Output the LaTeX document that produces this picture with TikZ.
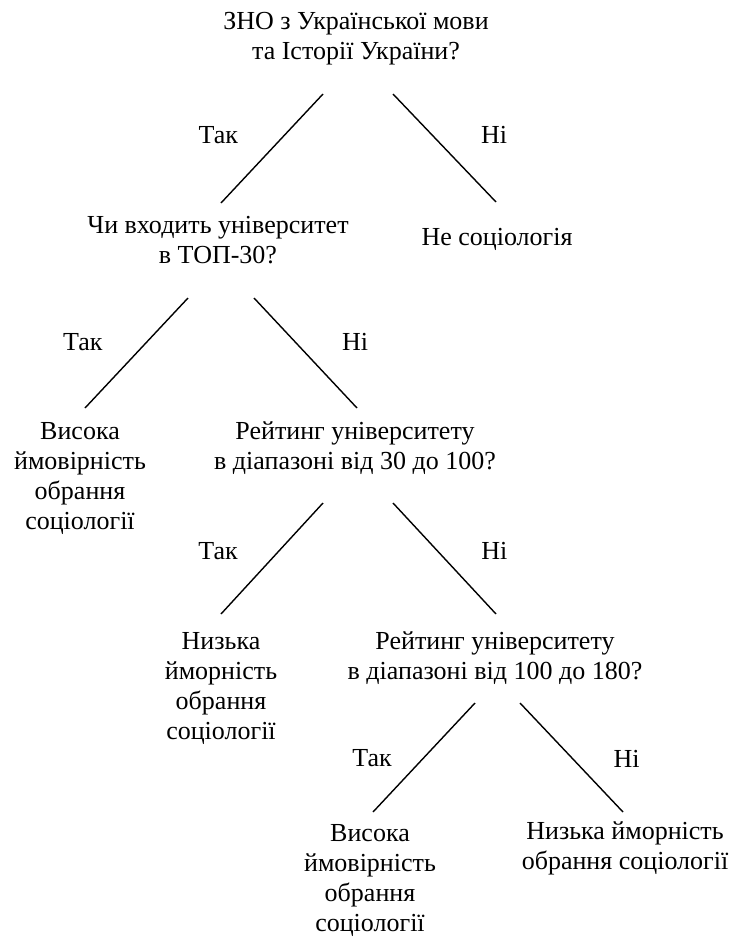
\documentclass[tikz,border=0pt]{standalone}
\usepackage{fontspec}
\setmainfont{Liberation Serif}
\begin{document}
\begin{tikzpicture}[x=1pt, y=-1pt,
    txt/.style={align=center, inner sep=0pt, anchor=base, font=\fontsize{26}{30}\selectfont},
    branch/.style={line width=1.4pt},
    lbl/.style={inner sep=0pt, font=\fontsize{26}{30}\selectfont}]
  \useasboundingbox (0, 0) rectangle (739, 937);

  % nodes sit on the baseline of their last line
  \node[txt] at (356, 59)  (zno)    {ЗНО з Української мови\\та Історії України?};
  \node[txt] at (218, 263) (top)    {Чи входить університет\\в ТОП-30?};
  \node[txt] at (497, 245) (nesoc)  {Не соціологія};
  \node[txt] at (80, 529)  (high1)  {Висока\\ймовірність\\обрання\\соціології};
  \node[txt] at (355, 469) (rank1)  {Рейтинг університету\\в діапазоні від 30 до 100?};
  \node[txt] at (221, 739) (low1)   {Низька\\йморність\\обрання\\соціології};
  \node[txt] at (495, 679) (rank2)  {Рейтинг університету\\в діапазоні від 100 до 180?};
  \node[txt] at (370, 931) (high2)  {Висока\\ймовірність\\обрання\\соціології};
  \node[txt] at (625, 869) (low2)   {Низька йморність\\обрання соціології};

  \draw[branch] ([xshift=-33pt, yshift=-35pt]zno.base) -- ([xshift=3pt, yshift=60pt]top.base)
    node[lbl, pos=0.38, xshift=-66pt] {Так};
  \draw[branch] ([xshift=37pt, yshift=-35pt]zno.base) -- ([xshift=-1pt, yshift=43pt]nesoc.base)
    node[lbl, pos=0.38, xshift=62pt] {Ні};

  \draw[branch] ([xshift=-30pt, yshift=-35pt]top.base) -- ([xshift=5pt, yshift=121pt]high1.base)
    node[lbl, pos=0.4, xshift=-64pt] {Так};
  \draw[branch] ([xshift=36pt, yshift=-35pt]top.base) -- ([xshift=2pt, yshift=61pt]rank1.base)
    node[lbl, pos=0.4, xshift=60pt] {Ні};

  \draw[branch] ([xshift=-32pt, yshift=-34pt]rank1.base) -- ([xshift=0pt, yshift=125pt]low1.base)
    node[lbl, pos=0.43, xshift=-61pt] {Так};
  \draw[branch] ([xshift=38pt, yshift=-34pt]rank1.base) -- ([xshift=1pt, yshift=65pt]rank2.base)
    node[lbl, pos=0.43, xshift=57pt] {Ні};

  \draw[branch] ([xshift=-20pt, yshift=-24pt]rank2.base) -- ([xshift=3pt, yshift=119pt]high2.base)
    node[lbl, pos=0.51, xshift=-51pt] {Так};
  \draw[branch] ([xshift=25pt, yshift=-24pt]rank2.base) -- ([xshift=-2pt, yshift=57pt]low2.base)
    node[lbl, pos=0.51, xshift=54pt] {Ні};
\end{tikzpicture}
\end{document}
